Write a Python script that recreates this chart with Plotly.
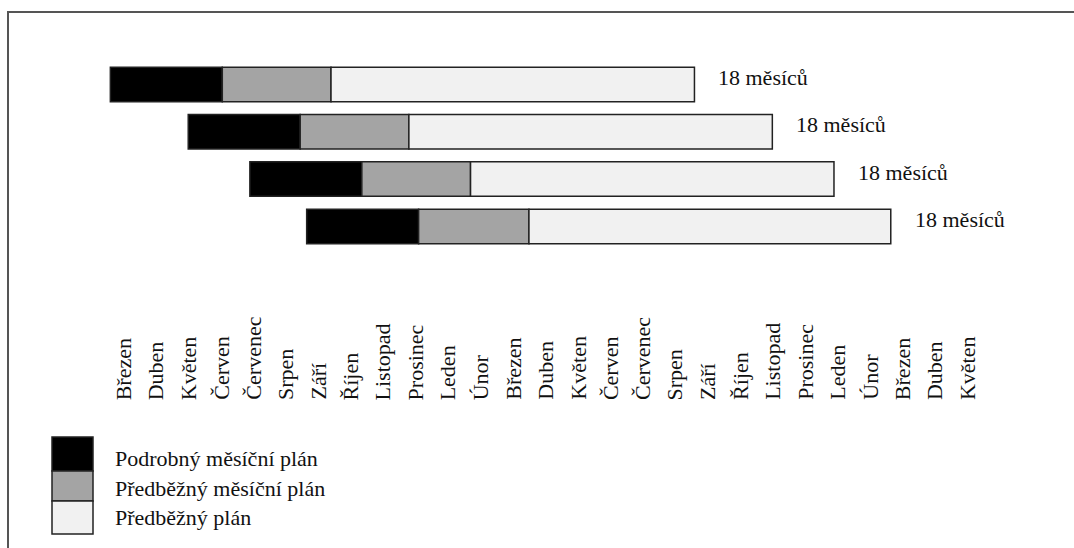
import plotly.graph_objects as go

# Rolling 18-month planning horizon, shifted by roughly two months per row
months = ["Březen", "Duben", "Květen", "Červen", "Červenec", "Srpen", "Září",
          "Říjen", "Listopad", "Prosinec", "Leden", "Únor",
          "Březen", "Duben", "Květen", "Červen", "Červenec", "Srpen", "Září",
          "Říjen", "Listopad", "Prosinec", "Leden", "Únor",
          "Březen", "Duben", "Květen"]

rows = [0, 1, 2, 3]
start = [0.1, 2.5, 4.4, 6.15]           # month offset where each plan begins
detailed = [3.45, 3.45, 3.45, 3.45]     # Podrobný měsíční plán
prelim_monthly = [3.35, 3.35, 3.35, 3.4]  # Předběžný měsíční plán
horizon = [18, 18, 18, 18]              # total length of each plan, months
horizon_label = "{} měsíců"

series_names = ["Podrobný měsíční plán", "Předběžný měsíční plán", "Předběžný plán"]
series_colors = ["#000000", "#a4a4a4", "#f1f1f1"]

prelim = [h - d - p for h, d, p in zip(horizon, detailed, prelim_monthly)]
base2 = [s + d for s, d in zip(start, detailed)]
base3 = [b + p for b, p in zip(base2, prelim_monthly)]
ends = [s + h for s, h in zip(start, horizon)]

W, H = 1074, 548
FONT = "Liberation Serif, Times New Roman, DejaVu Serif, serif"
TEXT = "#111111"


def px(p):
    return p / W


def py(p):
    return 1 - p / H


fig = go.Figure()
for name, color, base, length in zip(series_names, series_colors,
                                     [start, base2, base3],
                                     [detailed, prelim_monthly, prelim]):
    fig.add_trace(go.Bar(
        y=rows, x=length, base=base, orientation="h", name=name,
        width=0.73, marker=dict(color=color, line=dict(color="#222222", width=1.5)),
        showlegend=False, hoverinfo="skip",
    ))

annotations = []
# horizon labels to the right of each bar
for r, e, h in zip(rows, ends, horizon):
    annotations.append(dict(
        x=e, y=r, xref="x", yref="y", text=horizon_label.format(h),
        xanchor="left", yanchor="middle", xshift=22, yshift=7, showarrow=False,
        font=dict(family=FONT, size=22, color=TEXT),
    ))

# month names, rotated and bottom-aligned under each month column
for i, m in enumerate(months):
    annotations.append(dict(
        x=i + 0.5, y=py(402), xref="x", yref="paper", text=m,
        textangle=-90, xanchor="center", yanchor="bottom", showarrow=False,
        font=dict(family=FONT, size=22, color=TEXT),
    ))

# legend: stacked swatches with captions
shapes = []
sw_top = [437, 471, 501]
sw_bot = [471, 501, 534]
txt_y = [458, 488, 517]
for name, color, t, b, ty in zip(series_names, series_colors, sw_top, sw_bot, txt_y):
    shapes.append(dict(type="rect", xref="paper", yref="paper",
                       x0=px(52), x1=px(93), y0=py(b), y1=py(t),
                       fillcolor=color, line=dict(color="#222222", width=1.5)))
    annotations.append(dict(
        x=px(113), y=py(ty), xref="paper", yref="paper", text=name,
        xanchor="left", yanchor="middle", showarrow=False,
        font=dict(family=FONT, size=22, color=TEXT),
    ))

# outer frame
shapes.append(dict(type="rect", xref="paper", yref="paper",
                   x0=px(8), x1=px(1090), y0=py(570), y1=py(12),
                   fillcolor="rgba(0,0,0,0)", line=dict(color="#555555", width=2),
                   layer="below"))

x0 = -107.1 / 32.45
x1 = (W - 107.1) / 32.45
fig.update_layout(
    width=W, height=H,
    margin=dict(l=0, r=0, t=0, b=0),
    paper_bgcolor="white", plot_bgcolor="white",
    barmode="overlay",
    font=dict(family=FONT),
    xaxis=dict(range=[x0, x1], visible=False, fixedrange=True),
    yaxis=dict(range=[(H - 84.5) / 47.3, -84.5 / 47.3], visible=False, fixedrange=True),
    annotations=annotations,
    shapes=shapes,
)

fig.write_html("out.html")
